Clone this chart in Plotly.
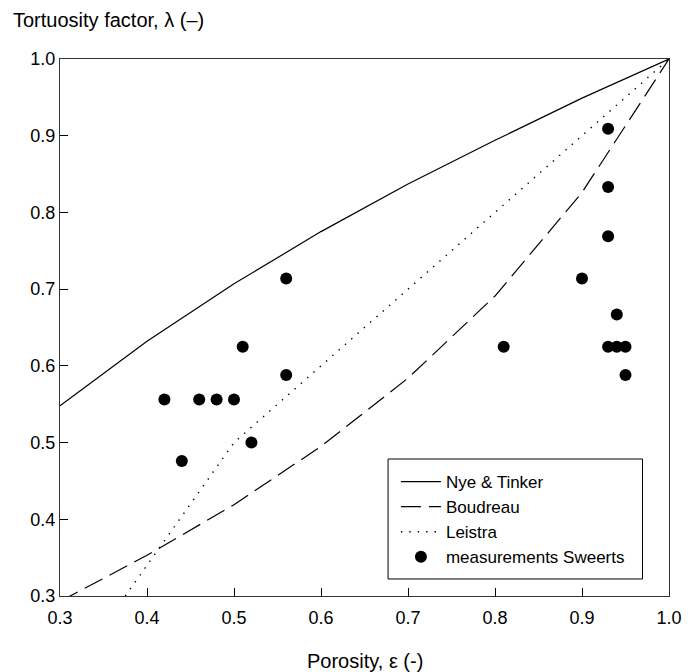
import plotly.graph_objects as go

# Porosity grid for the model curves
eps_grid = [0.3, 0.4, 0.5, 0.6, 0.7, 0.8, 0.9, 1.0]
nye_tinker = [0.548, 0.632, 0.707, 0.775, 0.837, 0.894, 0.949, 1.0]
boudreau = [0.293, 0.353, 0.419, 0.495, 0.584, 0.691, 0.826, 1.0]

# Leistra relation (steeper branch below 0.5)
eps_leistra = [0.375, 0.4, 0.5, 0.6, 0.7, 0.8, 0.9, 1.0]
leistra = [0.30, 0.34, 0.50, 0.60, 0.70, 0.80, 0.90, 1.0]

# Measured tortuosity factors (Sweerts)
eps_meas = [0.42, 0.44, 0.46, 0.48, 0.50, 0.51, 0.52, 0.56, 0.56, 0.81,
            0.90, 0.93, 0.93, 0.93, 0.93, 0.94, 0.94, 0.95, 0.95]
lam_meas = [0.556, 0.476, 0.556, 0.556, 0.556, 0.625, 0.500, 0.714, 0.588, 0.625,
            0.714, 0.909, 0.833, 0.769, 0.625, 0.667, 0.625, 0.625, 0.588]

x_ticks = [0.3, 0.4, 0.5, 0.6, 0.7, 0.8, 0.9, 1.0]
y_ticks = [0.3, 0.4, 0.5, 0.6, 0.7, 0.8, 0.9, 1.0]

FONT = "Liberation Sans, Arial, sans-serif"

fig = go.Figure()
fig.add_trace(go.Scatter(x=eps_grid, y=nye_tinker, mode="lines", name="Nye & Tinker",
                         line=dict(color="black", width=1.2)))
fig.add_trace(go.Scatter(x=eps_grid, y=boudreau, mode="lines", name="Boudreau",
                         line=dict(color="black", width=1.2, dash="20px,8px")))
fig.add_trace(go.Scatter(x=eps_leistra, y=leistra, mode="lines", name="Leistra",
                         line=dict(color="black", width=1.4, dash="1.4px,7px")))
fig.add_trace(go.Scatter(x=eps_meas, y=lam_meas, mode="markers", name="measurements Sweerts",
                         marker=dict(color="black", size=12, line=dict(width=0))))

axis_common = dict(
    showgrid=False, zeroline=False,
    showline=True, linecolor="#333", linewidth=1, mirror=True,
    ticks="inside", ticklen=8, tickwidth=1.2, tickcolor="black",
    tickfont=dict(family=FONT, size=18, color="black"),
    tickformat=".1f",
)

fig.update_layout(
    width=694, height=672,
    margin=dict(l=60, r=14, t=59, b=76),
    paper_bgcolor="white", plot_bgcolor="white",
    font=dict(family=FONT, color="black"),
    showlegend=True,
    legend=dict(
        x=0.5516, y=0.2458, xanchor="left", yanchor="top",
        bgcolor="rgba(0,0,0,0)", borderwidth=0,
        font=dict(family=FONT, size=17, color="black"),
        itemwidth=40, tracegroupgap=0,
    ),
    xaxis=dict(range=[0.3, 1.0], tickvals=x_ticks, ticklabelstandoff=5, **axis_common),
    yaxis=dict(range=[0.3, 1.0], tickvals=y_ticks, **axis_common),
    shapes=[
        # frame around the legend entries
        dict(type="rect", xref="paper", yref="paper",
             x0=0.5387, x1=0.9565, y0=0.0317, y1=0.2551,
             line=dict(color="black", width=1), fillcolor="white", layer="above"),
    ],
    annotations=[
        dict(text="Tortuosity factor, λ (–)", xref="paper", yref="paper",
             x=-0.0806, y=1.0726, xanchor="left", yanchor="middle", showarrow=False,
             font=dict(family=FONT, size=20, color="black")),
        dict(text="Porosity, ε (-)", xref="paper", yref="paper",
             x=0.5, y=-0.121, xanchor="center", yanchor="middle", showarrow=False,
             font=dict(family=FONT, size=20, color="black")),
    ],
)

fig.write_html("out.html")
